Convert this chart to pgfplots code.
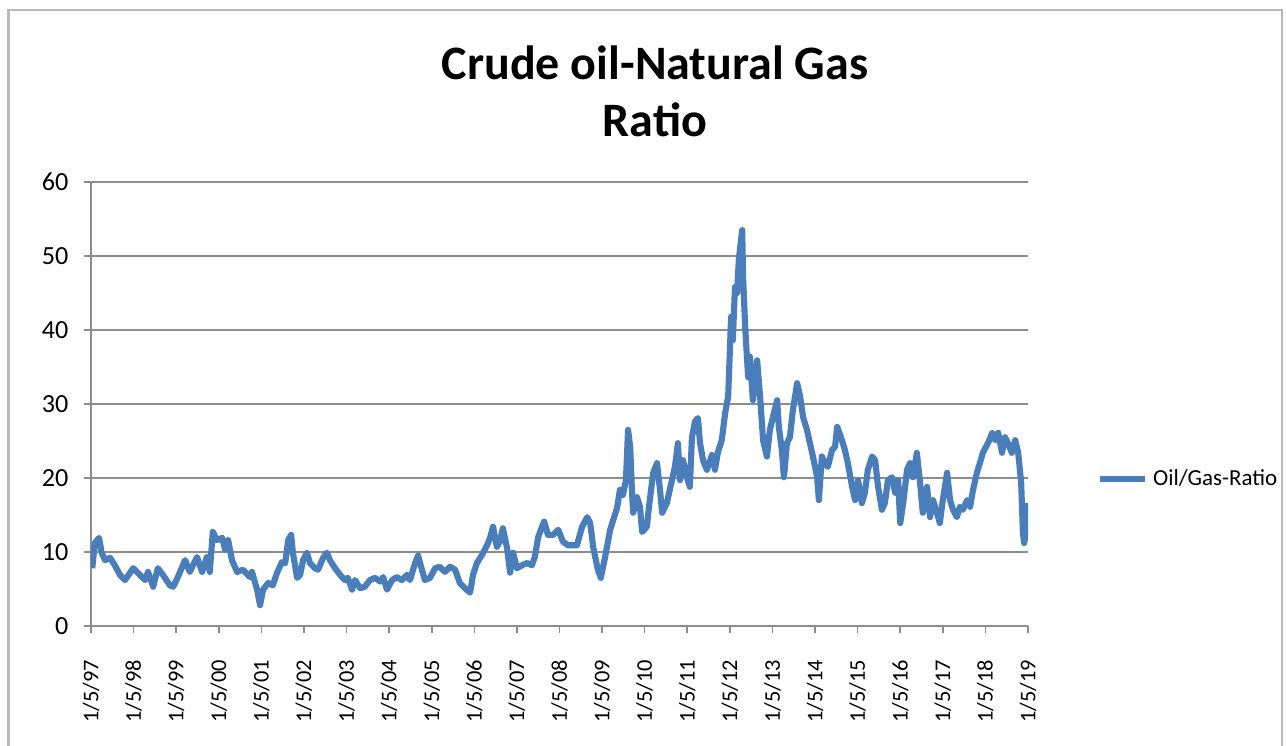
\documentclass[border=0pt]{standalone}
\usepackage{fontspec}
\setmainfont{Carlito}
\usepackage{pgfplots}
\pgfplotsset{compat=1.18}
\definecolor{ser}{HTML}{4A7EBB}
\definecolor{gridc}{HTML}{8C8C8C}
\begin{document}
\begin{tikzpicture}
\path[use as bounding box] (0,0) rectangle (482pt,279.6pt);
\draw[gray!55, line width=0.8pt] (3.2pt,-5pt) rectangle (480.5pt,275.9pt);
\node[font=\fontsize{18}{21.4}\selectfont\bfseries, align=center] at (245.5pt,245.5pt) {Crude oil-Natural Gas\\Ratio};
\begin{axis}[at={(34.1pt,45pt)}, anchor=south west, scale only axis,
  width=351.2pt, height=166.4pt,
  xmin=1997, xmax=2019, ymin=0, ymax=60,
  ytick={0,10,...,60},
  xtick={1997,1998,...,2019},
  xticklabels={1/5/97,1/5/98,1/5/99,1/5/00,1/5/01,1/5/02,1/5/03,1/5/04,1/5/05,1/5/06,1/5/07,1/5/08,1/5/09,1/5/10,1/5/11,1/5/12,1/5/13,1/5/14,1/5/15,1/5/16,1/5/17,1/5/18,1/5/19},
  xticklabel style={rotate=90, anchor=east, font=\fontsize{8.4}{10}\selectfont},
  yticklabel style={font=\fontsize{9.8}{11}\selectfont},
  xticklabel shift=6.5pt,
  yticklabel shift=2.3pt,
  /pgf/number format/assume math mode=true,
  ymajorgrids, grid style={gridc, line width=0.6pt},
  axis x line*=bottom, axis y line*=left,
  x axis line style={-, gridc, line width=0.6pt},
  y axis line style={-, gridc, line width=0.6pt},
  tick style={gridc, line width=0.6pt},
  tick align=outside, major tick length=2.6pt,
  legend style={at={(1,0.33)}, anchor=west, xshift=22.5pt, draw=none, fill=none,
    font=\fontsize{8.6}{10}\selectfont, legend cell align=left},
  legend image code/.code={\draw[#1] (0pt,0pt) -- (16.9pt,0pt);},
]
\addplot[ser, line width=2.3pt, line join=round] coordinates {
(1997.03,7.8) (1997.09,11.2) (1997.19,11.9) (1997.25,9.9) (1997.33,8.9) (1997.45,9.2) (1997.56,8.2) (1997.68,6.9) (1997.80,6.2) (1997.99,7.8)
(1998.15,6.9) (1998.27,6.2) (1998.34,7.3) (1998.46,5.3) (1998.57,7.8) (1998.69,6.9) (1998.85,5.5) (1998.93,5.3) (1999.04,6.6) (1999.21,8.9)
(1999.32,7.3) (1999.49,9.3) (1999.61,7.3) (1999.72,9.3) (1999.79,7.3) (1999.86,12.7) (1999.96,11.6) (2000.08,11.9) (2000.15,10.3) (2000.22,11.6)
(2000.31,8.9) (2000.43,7.3) (2000.57,7.6) (2000.73,6.6) (2000.78,7.3) (2000.90,4.9) (2000.97,2.8) (2001.04,4.9) (2001.16,5.8) (2001.27,5.5)
(2001.37,7.2) (2001.48,8.6) (2001.56,8.5) (2001.63,11.6) (2001.70,12.3) (2001.74,9.9) (2001.84,6.5) (2001.91,6.9) (2001.98,8.9) (2002.07,9.9)
(2002.14,8.5) (2002.26,7.8) (2002.33,7.6) (2002.45,9.2) (2002.54,9.9) (2002.61,8.9) (2002.73,7.8) (2002.85,6.9) (2002.96,6.2) (2003.03,6.5)
(2003.13,4.9) (2003.20,6.2) (2003.32,5.1) (2003.43,5.3) (2003.55,6.2) (2003.67,6.5) (2003.79,6.0) (2003.86,6.6) (2003.95,4.9) (2004.07,6.2)
(2004.18,6.6) (2004.30,6.2) (2004.42,6.9) (2004.49,6.2) (2004.61,8.5) (2004.68,9.5) (2004.77,7.6) (2004.84,6.2) (2004.96,6.5) (2005.08,7.8)
(2005.19,8.0) (2005.31,7.3) (2005.43,8.0) (2005.55,7.6) (2005.66,5.8) (2005.78,5.1) (2005.90,4.5) (2005.97,6.9) (2006.06,8.5) (2006.18,9.6)
(2006.30,10.9) (2006.37,11.9) (2006.44,13.4) (2006.53,10.7) (2006.60,11.4) (2006.67,13.2) (2006.77,10.5) (2006.84,7.2) (2006.91,9.9) (2007.00,7.8)
(2007.12,8.2) (2007.24,8.5) (2007.35,8.2) (2007.42,9.3) (2007.50,12.0) (2007.59,13.4) (2007.64,14.1) (2007.73,12.3) (2007.85,12.3) (2007.97,13.0)
(2008.08,11.4) (2008.20,10.9) (2008.41,10.9) (2008.53,13.4) (2008.65,14.7) (2008.72,13.9) (2008.79,10.7) (2008.90,7.6) (2008.97,6.5) (2009.07,9.3)
(2009.19,13.0) (2009.26,14.3) (2009.35,15.9) (2009.42,18.4) (2009.49,17.7) (2009.56,19.7) (2009.61,26.5) (2009.66,24.2) (2009.70,18.4) (2009.73,15.3)
(2009.82,17.4) (2009.89,16.1) (2009.94,12.7) (2010.05,13.4) (2010.12,17.0) (2010.20,20.7) (2010.29,22.0) (2010.36,18.4) (2010.41,15.3) (2010.52,16.6)
(2010.64,19.7) (2010.71,21.5) (2010.78,24.7) (2010.83,19.7) (2010.90,22.4) (2010.99,20.1) (2011.06,18.8) (2011.11,25.5) (2011.18,27.6) (2011.25,28.1)
(2011.30,24.7) (2011.37,22.4) (2011.46,21.1) (2011.58,23.1) (2011.65,21.1) (2011.72,23.5) (2011.81,25.1) (2011.89,28.8) (2011.96,31.0) (2012.03,41.8)
(2012.07,38.6) (2012.12,45.8) (2012.17,45.0) (2012.21,49.5) (2012.29,53.5) (2012.31,47.2) (2012.36,40.4) (2012.40,36.4) (2012.43,33.6) (2012.47,36.4)
(2012.54,30.5) (2012.59,32.8) (2012.64,35.9) (2012.71,31.0) (2012.78,25.1) (2012.87,22.9) (2012.94,26.5) (2013.01,28.2) (2013.11,30.5) (2013.15,26.9)
(2013.22,23.8) (2013.27,20.1) (2013.34,24.7) (2013.41,25.5) (2013.48,29.2) (2013.58,32.8) (2013.65,31.0) (2013.72,28.2) (2013.81,26.5) (2013.88,24.7)
(2013.95,22.9) (2014.05,20.1) (2014.09,17.0) (2014.16,22.9) (2014.23,22.0) (2014.30,21.5) (2014.40,23.8) (2014.47,24.2) (2014.52,26.9) (2014.61,25.5)
(2014.70,23.8) (2014.77,22.0) (2014.87,18.8) (2014.94,17.0) (2015.01,19.7) (2015.10,16.6) (2015.17,18.0) (2015.24,21.1) (2015.34,22.9) (2015.41,22.4)
(2015.48,18.8) (2015.57,15.7) (2015.64,16.6) (2015.71,19.7) (2015.81,20.1) (2015.88,18.0) (2015.95,19.7) (2016.00,13.9) (2016.07,16.6) (2016.16,21.1)
(2016.23,22.0) (2016.30,20.1) (2016.39,23.4) (2016.46,19.7) (2016.53,15.3) (2016.63,18.8) (2016.70,14.7) (2016.77,17.0) (2016.86,15.3) (2016.93,13.9)
(2017.00,17.0) (2017.10,20.7) (2017.17,17.0) (2017.24,15.7) (2017.33,14.7) (2017.40,16.1) (2017.47,15.7) (2017.57,17.0) (2017.64,16.1) (2017.71,18.4)
(2017.80,20.7) (2017.87,22.0) (2017.94,23.4) (2018.06,24.7) (2018.16,26.1) (2018.23,25.1) (2018.30,26.1) (2018.39,23.4) (2018.46,25.5) (2018.53,24.7)
(2018.62,23.4) (2018.70,25.1) (2018.77,23.4) (2018.84,19.3) (2018.88,12.6) (2018.91,11.2) (2018.98,13.4) (2019.00,16.6)
};
\addlegendentry{Oil/Gas-Ratio}
\end{axis}
\end{tikzpicture}
\end{document}
